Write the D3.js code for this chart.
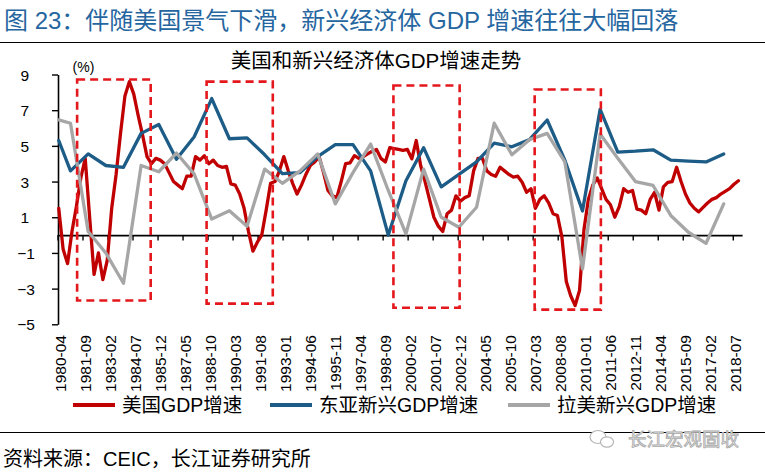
<!DOCTYPE html>
<html><head><meta charset="utf-8">
<script src="https://cdn.jsdelivr.net/npm/d3@7"></script>
<style>
html,body{margin:0;padding:0;background:#fff;}
svg{display:block;}
text{font-family:"Liberation Sans","Noto Sans CJK SC",sans-serif;}
</style></head>
<body>
<script>
// ---------- DATA ----------
// US real GDP YoY (%), quarterly, first point dated 1980-04, one point every 3 months
const usGDP = [
 1.5,-0.8,-1.6,0.2,   1.6,3.2,4.3,1.0,   -2.2,-1.0,-2.5,-1.4,  1.5,3.4,5.7,7.8,
 8.6,7.9,6.7,5.6,     4.4,4.0,4.3,4.2,   4.0,3.5,3.0,2.8,      2.6,3.3,3.3,4.4,
 4.2,4.45,4.0,4.2,    3.9,3.8,3.85,2.87, 2.8,2.3,1.5,0.2,      -0.9,-0.4,0.0,1.4,
 2.9,3.0,3.6,4.4,     3.6,2.9,2.3,2.8,   3.4,3.9,4.1,4.4,      3.5,2.5,2.2,2.1,
 3.0,4.0,4.05,4.45,   4.3,4.4,4.55,4.7,  4.8,4.3,4.1,4.9,      4.85,4.8,4.75,4.8,
 4.27,5.3,3.9,3.0,    2.0,1.0,0.5,0.2,   1.2,1.4,2.2,1.9,      2.1,2.2,3.6,4.3,
 4.3,3.6,3.4,3.3,     3.8,3.6,3.4,3.25,  3.3,2.96,2.4,2.6,     1.5,2.0,2.2,1.8,
 1.2,1.1,-0.1,-2.6,   -3.4,-3.95,-3.1,0.3, 2.0,2.8,3.2,2.6,    2.0,1.7,1.0,1.6,
 2.6,2.4,2.5,1.45,    1.4,1.2,2.0,2.4,   1.4,2.7,2.95,3.0,     3.8,3.0,2.3,1.8,
 1.5,1.3,1.55,1.8,    2.0,2.1,2.3,2.45,  2.6,2.85,3.05
];
const usStart = "1980-04";
// Emerging economies GDP growth (%), annual: first value at 1980-04, then years 1980..2017 (dated December)
const emDates = ["1980-04","1980-12","1981-12","1982-12","1983-12","1984-12","1985-12","1986-12","1987-12",
 "1988-12","1989-12","1990-12","1991-12","1992-12","1993-12","1994-12","1995-12","1996-12","1997-12",
 "1998-12","1999-12","2000-12","2001-12","2002-12","2003-12","2004-12","2005-12","2006-12","2007-12",
 "2008-12","2009-12","2010-12","2011-12","2012-12","2013-12","2014-12","2015-12","2016-12","2017-12"];
const eastAsiaGDP = [5.3,3.6,4.55,3.9,3.8,5.7,6.2,4.25,5.5,7.65,5.4,5.45,4.5,3.45,3.5,4.4,5.07,5.07,3.6,
 0.0,3.05,4.9,2.7,3.4,4.1,5.15,4.95,5.35,6.45,4.2,1.35,7.05,4.65,4.7,4.78,4.2,4.15,4.1,4.55];
const latAmGDP = [6.46,6.27,0.2,-1.0,-2.7,3.9,3.55,4.6,3.43,0.9,1.37,0.5,3.7,2.9,3.6,4.55,1.75,3.5,5.1,
 2.5,0.07,3.7,1.0,0.44,1.56,6.27,4.5,5.35,5.7,4.1,-1.9,5.67,4.3,3.0,2.78,1.1,0.16,-0.46,1.75];
// x tick labels (every 17 months)
const xTickLabels = ["1980-04","1981-09","1983-02","1984-07","1985-12","1987-05","1988-10","1990-03",
 "1991-08","1993-01","1994-06","1995-11","1997-04","1998-09","2000-02","2001-07","2002-12","2004-05",
 "2005-10","2007-03","2008-08","2010-01","2011-06","2012-11","2014-04","2015-09","2017-02","2018-07"];
const yTicks = [-5,-3,-1,1,3,5,7,9];
// highlighted recession windows [start month, end month, top value, bottom value]
const boxes = [
 {from:"1981-05", to:"1985-07", top:8.72, bottom:-3.67},
 {from:"1988-09", to:"1992-06", top:8.6, bottom:-3.84},
 {from:"1999-04", to:"2003-01", top:8.38, bottom:-4.07},
 {from:"2007-04", to:"2011-01", top:8.16, bottom:-4.18}
];
const seriesNames = ["美国GDP增速","东亚新兴GDP增速","拉美新兴GDP增速"];
const colors = ["#c00000","#1c5c87","#a6a6a6"];

// ---------- CATEGORY AXIS (monthly) ----------
function addMonths(s, n){
  let [yy,m] = s.split("-").map(Number);
  let t = yy*12 + (m-1) + n;
  return Math.floor(t/12) + "-" + String(t%12+1).padStart(2,"0");
}
const months = d3.range(465).map(i => addMonths("1980-04", i));
const usDates = usGDP.map((v,i) => addMonths(usStart, 3*i));

const W = 765, H = 472;
const svg = d3.select("body").append("svg").attr("width", W).attr("height", H);

const x = d3.scaleBand().domain(months).range([58, 742.1]).padding(0);
const bw = x.bandwidth();
const cx = d => x(d) + bw/2;
const y = d3.scaleLinear().domain([-5, 9]).range([324.3, 74.5]);

// ---------- TITLES ----------
svg.append("text").attr("x", 4).attr("y", 29)
  .attr("font-size", 24).attr("fill", "#2566a0")
  .text("图 23：伴随美国景气下滑，新兴经济体 GDP 增速往往大幅回落");
svg.append("line").attr("x1",0).attr("x2",W).attr("y1",42.5).attr("y2",42.5)
  .attr("stroke","#000").attr("stroke-width",1.2);
svg.append("text").attr("x", 376).attr("y", 68).attr("text-anchor","middle")
  .attr("font-size", 20.5).attr("fill", "#000")
  .text("美国和新兴经济体GDP增速走势");
svg.append("text").attr("x", 83.5).attr("y", 72).attr("text-anchor","middle")
  .attr("font-size", 14).attr("fill","#000").text("(%)");

// ---------- AXES ----------
const yAxis = svg.append("g").attr("transform","translate(58,0)")
  .call(d3.axisLeft(y).tickValues(yTicks).tickSize(6).tickSizeOuter(0).tickFormat(d3.format("d")));
yAxis.select(".domain").attr("stroke","#000").attr("stroke-width",1.6);
yAxis.selectAll(".tick line").attr("stroke","#000").attr("stroke-width",1.4);
yAxis.selectAll(".tick text").attr("font-size",15.5).attr("fill","#000")
  .attr("font-family","Liberation Sans")
  .attr("x", d => d < 0 ? -23 : -29).attr("dy","0.36em");

const xAxis = svg.append("g").attr("transform",`translate(0,${y(0)})`)
  .call(d3.axisBottom(x).tickValues(xTickLabels).tickSize(0).tickSizeOuter(0));
xAxis.select(".domain").attr("stroke","#000").attr("stroke-width",1.6);
xAxis.selectAll(".tick").append("line")
  .attr("x1", -bw/2).attr("x2", -bw/2).attr("y1",0).attr("y2",5.5)
  .attr("stroke","#000").attr("stroke-width",1.4);
xAxis.selectAll(".tick text").remove();

svg.append("g").selectAll("text").data(xTickLabels).join("text")
  .attr("transform", d => `translate(${cx(d)+1.6},335) rotate(-90)`)
  .attr("text-anchor","end").attr("dy","0.36em")
  .attr("font-size",15.5).attr("font-family","Liberation Sans").attr("fill","#000")
  .text(d => d);

// ---------- LINES ----------
const line = d3.line().x(d => cx(d[0])).y(d => y(d[1]));
const seriesData = [
  usGDP.map((v,i) => [usDates[i], v]),
  eastAsiaGDP.map((v,i) => [emDates[i], v]),
  latAmGDP.map((v,i) => [emDates[i], v])
];
svg.append("g").selectAll("path").data(seriesData).join("path")
  .attr("d", line).attr("fill","none")
  .attr("stroke", (d,i) => colors[i]).attr("stroke-width", 3.3)
  .attr("stroke-linejoin","round").attr("stroke-linecap","round");

// ---------- DASHED BOXES ----------
svg.append("g").selectAll("rect").data(boxes).join("rect")
  .attr("x", d => x(d.from)).attr("y", d => y(d.top))
  .attr("width", d => x(d.to) - x(d.from)).attr("height", d => y(d.bottom) - y(d.top))
  .attr("fill","none").attr("stroke","#e3171c").attr("stroke-width",2.6)
  .attr("stroke-dasharray","8,5");

// ---------- LEGEND ----------
const legX = [73, 270, 508];
const leg = svg.append("g").selectAll("g").data(seriesNames).join("g")
  .attr("transform",(d,i)=>`translate(${legX[i]},405)`);
leg.append("line").attr("x1",0).attr("x2",42).attr("y1",0).attr("y2",0)
  .attr("stroke",(d,i)=>colors[i]).attr("stroke-width",4);
leg.append("text").attr("x",49).attr("y",7).attr("font-size",19.5).attr("fill","#000").text(d=>d);

// ---------- FOOTER ----------
svg.append("line").attr("x1",0).attr("x2",W).attr("y1",432.5).attr("y2",432.5)
  .attr("stroke","#000").attr("stroke-width",1.2);
svg.append("text").attr("x",3).attr("y",466).attr("font-size",20).attr("fill","#000")
  .text("资料来源：CEIC，长江证券研究所");
const wm = svg.append("g");
wm.append("ellipse").attr("cx",598).attr("cy",437).attr("rx",8).attr("ry",6.5)
  .attr("fill","#fff").attr("stroke","#b5b5b5").attr("stroke-width",1.2);
wm.append("ellipse").attr("cx",607).attr("cy",442).attr("rx",6.5).attr("ry",5.2)
  .attr("fill","#fff").attr("stroke","#b5b5b5").attr("stroke-width",1.2);
wm.append("text").attr("x",628).attr("y",446).attr("font-size",18.5)
  .attr("fill","#f2f2f2").attr("stroke","#a8a8a8").attr("stroke-width",0.8)
  .text("长江宏观固收");
</script>
</body></html>
